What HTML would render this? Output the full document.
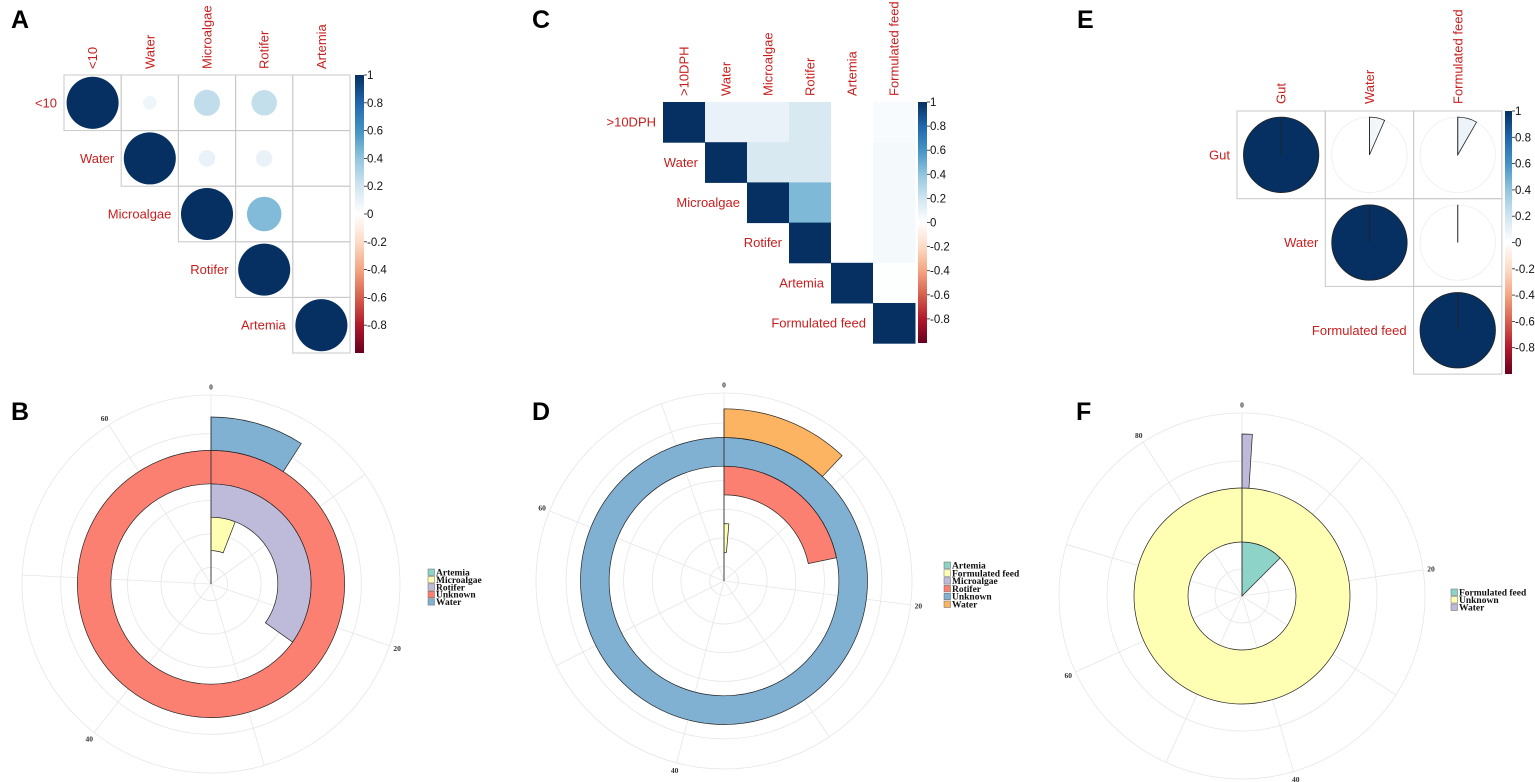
<!DOCTYPE html>
<html><head><meta charset="utf-8"><style>
html,body{margin:0;padding:0;background:#fff;}
svg{display:block;}
.lab{font-family:"Liberation Sans",Arial,sans-serif;fill:#c81e1e;font-size:13px;}
.cb{font-family:"Liberation Sans",Arial,sans-serif;fill:#111;font-size:11.5px;}
.pl{font-family:"Liberation Serif",serif;font-weight:bold;fill:#333;font-size:7.5px;}
.lg{font-family:"Liberation Serif",serif;font-weight:bold;fill:#111;font-size:9.5px;}
.big{font-family:"Liberation Sans",Arial,sans-serif;font-weight:bold;font-size:25px;fill:#000;}
</style></head><body>
<svg id="fig" width="1535" height="782" viewBox="0 0 1535 782" xmlns="http://www.w3.org/2000/svg">
<text class="big" x="11" y="28">A</text>
<text class="big" x="11" y="420">B</text>
<text class="big" x="532" y="28">C</text>
<text class="big" x="532" y="420">D</text>
<text class="big" x="1077" y="28">E</text>
<text class="big" x="1076" y="420">F</text>
</svg>
<script>
// ---- Panel A data (correlation, circles) ----
const aLabels = ['<10','Water','Microalgae','Rotifer','Artemia'];
const aRow0 = [1, 0.07, 0.25, 0.24, 0.01];
const aRow1 = [1, 0.1, 0.1, 0.01];
const aRow2 = [1, 0.44, 0];
const aRow3 = [1, 0];
const aRow4 = [1];
// ---- Panel C data (correlation, squares) ----
const cLabels = ['>10DPH','Water','Microalgae','Rotifer','Artemia','Formulated feed'];
const cRow0 = [1, 0.1, 0.1, 0.17, 0, 0.03];
const cRow1 = [1, 0.17, 0.17, 0, 0.05];
const cRow2 = [1, 0.45, 0, 0.05];
const cRow3 = [1, 0, 0.05];
const cRow4 = [1, 0.01];
const cRow5 = [1];
// ---- Panel E data (correlation, pies) ----
const eLabels = ['Gut','Water','Formulated feed'];
const eRow0 = [1, 0.066, 0.083];
const eRow1 = [1, 0];
const eRow2 = [1];
// ---- colorbar ticks ----
const cbTicks = ['1','0.8','0.6','0.4','0.2','0','-0.2','-0.4','-0.6','-0.8'];
const cbValues = [1,0.8,0.6,0.4,0.2,0,-0.2,-0.4,-0.6,-0.8];
// ---- Panel B data (circular bars) ----
const bCats = ['Artemia','Microalgae','Rotifer','Unknown','Water'];
const bVals = [0, 3.9, 23, 66, 6.0];
const bColors = ['#8DD3C7','#FFFFB3','#BEBADA','#FB8072','#80B1D3'];
const bTicks = [0,20,40,60];
// ---- Panel D data ----
const dCats = ['Artemia','Formulated feed','Microalgae','Rotifer','Unknown','Water'];
const dVals = [0, 1.0, 0, 16.1, 74, 8.9];
const dColors = ['#8DD3C7','#FFFFB3','#BEBADA','#FB8072','#80B1D3','#FDB462'];
const dTicks = [0,20,40,60];
// ---- Panel F data ----
const fCats = ['Formulated feed','Unknown','Water'];
const fVals = [11, 88, 0.9];
const fColors = ['#8DD3C7','#FFFFB3','#BEBADA'];
const fTicks = [0,20,40,60,80];

const NS='http://www.w3.org/2000/svg';
const svg=document.getElementById('fig');
function mk(tag, attrs, parent){const e=document.createElementNS(NS,tag);for(const k in attrs)e.setAttribute(k,attrs[k]);(parent||svg).appendChild(e);return e;}
const STOPS=['#67001F','#B2182B','#D6604D','#F4A582','#FDDBC7','#FFFFFF','#D1E5F0','#92C5DE','#4393C3','#2166AC','#053061'];
function hex(h){return [parseInt(h.slice(1,3),16),parseInt(h.slice(3,5),16),parseInt(h.slice(5,7),16)];}
function col(v){const t=(Math.max(-1,Math.min(1,v))+1)/2*10;const i=Math.min(9,Math.floor(t));const f=t-i;const a=hex(STOPS[i]),b=hex(STOPS[i+1]);return 'rgb('+a.map((x,k)=>Math.round(x+(b[k]-x)*f)).join(',')+')';}

const defs=mk('defs',{});
const lg=mk('linearGradient',{id:'cbg',x1:0,y1:0,x2:0,y2:1},defs);
STOPS.slice().reverse().forEach((c,i)=>mk('stop',{offset:(i/10),'stop-color':c},lg));

function colorbar(x,w,y0,y1,name){
  const g=mk('g',{});
  
  
  mk('rect',{x:x,y:y0,width:w,height:y1-y0,fill:'url(#cbg)'},g);
  cbValues.forEach((v,i)=>{
    const y=y0+(1-v)/2*(y1-y0);
    mk('line',{x1:x+w,x2:x+w+3,y1:y,y2:y,stroke:'#222','stroke-width':0.8},g);
    const t=mk('text',{x:x+w+3,y:y+4,class:'cb'},g);
    t.textContent=cbTicks[i];
  });
}

function corrLabels(labels,x0,y0,cw,ch,gap,pref){
  labels.forEach((l,i)=>{
    const t=mk('text',{x:x0+i*cw-7,y:y0+(i+0.5)*ch+4.5,class:'lab','text-anchor':'end'});
    t.textContent=l;
    
    
    const cx=x0+(i+0.5)*cw+4.5, cy=y0-gap;
    const u=mk('text',{x:cx,y:cy,class:'lab',transform:'rotate(-90 '+cx+' '+cy+')'});
    u.textContent=l;
    
    
  });
}

(function(){
  const rows=[aRow0,aRow1,aRow2,aRow3,aRow4];
  const x0=64,y0=75,cw=57.2,ch=55.6;
  rows.forEach((r,i)=>r.forEach((v,k)=>{
    const j=i+k;
    mk('rect',{x:x0+j*cw,y:y0+i*ch,width:cw,height:ch,fill:'none',stroke:'#c8c8c8','stroke-width':1});
    const c=mk('circle',{cx:x0+(j+0.5)*cw,cy:y0+(i+0.5)*ch,r:Math.sqrt(Math.abs(v))*0.468*ch,fill:col(v)});
    
    
  }));
  corrLabels(aLabels,x0,y0,cw,ch,6,'a');
  colorbar(355,9,75,353,'colorbar-a');
})();

(function(){
  const rows=[cRow0,cRow1,cRow2,cRow3,cRow4,cRow5];
  const x0=663,y0=102,cw=42,ch=40.2;
  rows.forEach((r,i)=>r.forEach((v,k)=>{
    const j=i+k;
    const s=mk('rect',{x:x0+j*cw,y:y0+i*ch,width:cw+0.5,height:ch+0.5,fill:col(v)});
    
    
  }));
  corrLabels(cLabels,x0,y0,cw,ch,6,'c');
  colorbar(918,9,102,343,'colorbar-c');
})();

(function(){
  const rows=[eRow0,eRow1,eRow2];
  const x0=1237,y0=111,cw=88.3,ch=87.7,R=37.7;
  rows.forEach((r,i)=>r.forEach((v,k)=>{
    const j=i+k;
    mk('rect',{x:x0+j*cw,y:y0+i*ch,width:cw,height:ch,fill:'none',stroke:'#c8c8c8','stroke-width':1});
    const cx=x0+(j+0.5)*cw, cy=y0+(i+0.5)*ch;
    const a=Math.abs(v)*2*Math.PI;
    if(Math.abs(v)>=0.999){
      const c=mk('circle',{cx:cx,cy:cy,r:R,fill:col(v),stroke:'#222','stroke-width':0.8});
      
      
    } else {
      mk('circle',{cx:cx,cy:cy,r:R,fill:'none',stroke:'#eee','stroke-width':0.8});
      const ex=cx+R*Math.sin(a), ey=cy-R*Math.cos(a);
      const p=mk('path',{d:'M'+cx+' '+cy+'L'+cx+' '+(cy-R)+'A'+R+' '+R+' 0 '+(a>Math.PI?1:0)+' 1 '+ex+' '+ey+'Z',fill:col(v),stroke:'#222','stroke-width':0.8});
      
      
    }
    mk('line',{x1:cx,y1:cy,x2:cx,y2:cy-R,stroke:'#222','stroke-width':0.8});
  }));
  corrLabels(eLabels,x0,y0,cw,ch,7,'e');
  colorbar(1505,7,111,374,'colorbar-e');
})();

function pt(cx,cy,r,a){return [cx+r*Math.sin(a),cy-r*Math.cos(a)];}
function polar(cx,cy,band,outerR,max,cats,vals,colors,ticks,legX,legY,legStep,pref){
  const g=mk('g',{});
  const grid=mk('g',{},g);
  for(let k=0;k<cats.length+1;k++){const r=band*(k+0.5); if(r<outerR-6) mk('circle',{cx:cx,cy:cy,r:r,fill:'none',stroke:'#e6e6e6','stroke-width':0.8},grid);}
  mk('circle',{cx:cx,cy:cy,r:outerR,fill:'none',stroke:'#e6e6e6','stroke-width':0.8},grid);
  for(let v=0;v<max;v+=10){const a=v/max*2*Math.PI;const p=pt(cx,cy,outerR,a);mk('line',{x1:cx,y1:cy,x2:p[0],y2:p[1],stroke:'#e6e6e6','stroke-width':0.8},grid);}
  ticks.forEach(v=>{const a=v/max*2*Math.PI;const p=pt(cx,cy,outerR+8,a);const t=mk('text',{x:p[0],y:p[1]+2.5,class:'pl','text-anchor':'middle'},g);t.textContent=v;
    
    });
  cats.forEach((c,i)=>{
    const r0=band*i, r1=band*(i+1), v=vals[i];
    const a=v/max*2*Math.PI;
    let d;
    if(v<=0){d='M'+cx+' '+(cy-r0)+'L'+cx+' '+(cy-r1);}
    else if(a>=2*Math.PI-1e-3){
      d='M'+cx+' '+(cy-r1)+'A'+r1+' '+r1+' 0 1 1 '+cx+' '+(cy+r1)+'A'+r1+' '+r1+' 0 1 1 '+cx+' '+(cy-r1)+'Z';
      if(r0>0) d+='M'+cx+' '+(cy-r0)+'A'+r0+' '+r0+' 0 1 0 '+cx+' '+(cy+r0)+'A'+r0+' '+r0+' 0 1 0 '+cx+' '+(cy-r0)+'Z';
    } else {
      const p1=pt(cx,cy,r1,a),p0=pt(cx,cy,r0,a),lf=a>Math.PI?1:0;
      d='M'+cx+' '+(cy-r0)+'L'+cx+' '+(cy-r1)+'A'+r1+' '+r1+' 0 '+lf+' 1 '+p1[0]+' '+p1[1]+'L'+p0[0]+' '+p0[1];
      if(r0>0) d+='A'+r0+' '+r0+' 0 '+lf+' 0 '+cx+' '+(cy-r0);
      d+='Z';
    }
    const p=mk('path',{d:d,fill:v>0?colors[i]:'none',stroke:'#222','stroke-width':0.7,'fill-rule':'evenodd'},g);
    
    
    if(v>0 && a>=2*Math.PI-1e-3) mk('line',{x1:cx,y1:cy-r0,x2:cx,y2:cy-r1,stroke:'#222','stroke-width':0.7},g);
  });
  mk('line',{x1:cx,y1:cy,x2:cx,y2:cy-band*cats.length,stroke:'#333','stroke-width':0.7},g);
  cats.forEach((c,i)=>{
    const y=legY+i*legStep;
    const s=mk('rect',{x:legX,y:y,width:6.5,height:6.5,fill:colors[i],stroke:'#666','stroke-width':0.5},g);
    
    
    const t=mk('text',{x:legX+8,y:y+6.5,class:'lg'},g);
    t.textContent=c;
    
    
  });
}
polar(211,584,33.4,189,66,bCats,bVals,bColors,bTicks,428,569,7.4,'b');
polar(724,581,28.7,188,74,dCats,dVals,dColors,dTicks,944,562,7.8,'d');
polar(1242,596,54,183,88,fCats,fVals,fColors,fTicks,1451,589,7.5,'f');
</script>
</body></html>
